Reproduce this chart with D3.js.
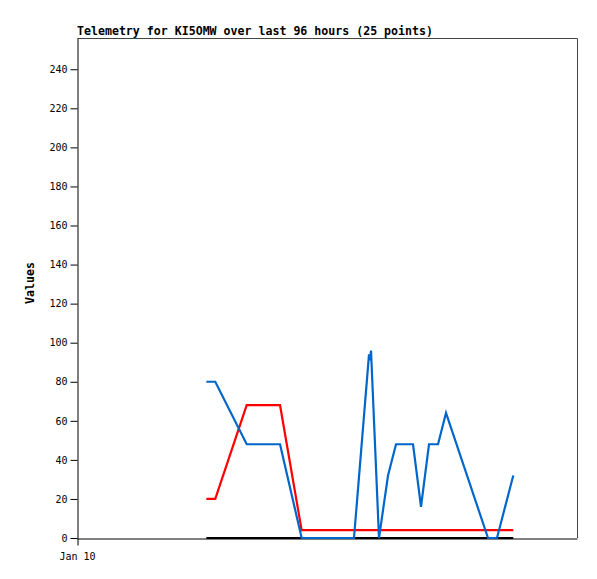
<!DOCTYPE html>
<html>
<head>
<meta charset="utf-8">
<script src="https://cdn.jsdelivr.net/npm/d3@7"></script>
<style>
  body { margin: 0; background: #fff; }
  svg { display: block; }
  text { font-family: "DejaVu Sans Mono", "Liberation Mono", monospace; }
</style>
</head>
<body>
<script>
const WIDTH = 597;
const HEIGHT = 579;
const MARGIN = { top: 38, right: 20, bottom: 41, left: 77 };

const TITLE = "Telemetry for KI5OMW over last 96 hours (25 points)";
const Y_LABEL = "Values";
const X_START = "2024-01-10 00:00";
const X_END = "2024-01-14 00:00";
const Y_MAX = 256;
const Y_TICKS = [0, 20, 40, 60, 80, 100, 120, 140, 160, 180, 200, 220, 240];

const times = [
  "2024-01-11 00:50", "2024-01-11 02:33", "2024-01-11 08:35", "2024-01-11 14:59",
  "2024-01-11 19:08", "2024-01-12 05:11", "2024-01-12 08:04", "2024-01-12 08:16",
  "2024-01-12 08:27", "2024-01-12 09:59", "2024-01-12 11:43", "2024-01-12 13:15",
  "2024-01-12 16:31", "2024-01-12 18:03", "2024-01-12 19:35", "2024-01-12 21:19",
  "2024-01-12 22:51", "2024-01-13 06:55", "2024-01-13 08:38", "2024-01-13 11:46"
];
const blueValues = [80, 80, 48, 48, 0, 0, 94, 91, 96, 0, 32, 48, 48, 16, 48, 48, 64, 0, 0, 32];
const redValues = [20, 20, 68, 68, 4, 4, 4, 4, 4, 4, 4, 4, 4, 4, 4, 4, 4, 4, 4, 4];
const blackValues = [0, 0, 0, 0, 0, 0, 0, 0, 0, 0, 0, 0, 0, 0, 0, 0, 0, 0, 0, 0];

const parse = d3.timeParse("%Y-%m-%d %H:%M");
const dates = times.map(parse);

const w = WIDTH - MARGIN.left - MARGIN.right;
const h = HEIGHT - MARGIN.top - MARGIN.bottom;

const svg = d3.select("body").append("svg")
  .attr("width", WIDTH)
  .attr("height", HEIGHT);

const g = svg.append("g").attr("transform", `translate(${MARGIN.left},${MARGIN.top})`);

const x = d3.scaleTime().domain([parse(X_START), parse(X_END)]).range([0, w]);
const y = d3.scaleLinear().domain([0, Y_MAX]).range([h, 0]);

// frame: top and right in grey
g.append("path")
  .attr("d", `M0.5,0.5H${w + 0.5}V${h}`)
  .attr("fill", "none")
  .attr("stroke", "#444");

const yAxis = g.append("g")
  .attr("transform", "translate(0.5,0)")
  .call(d3.axisLeft(y).tickValues(Y_TICKS).tickSize(7).tickPadding(3).tickSizeOuter(0));
yAxis.select(".domain").attr("stroke", "#000");
yAxis.selectAll("line").attr("stroke", "#000");
yAxis.selectAll("text").attr("font-size", "10px").attr("fill", "#000");

const xAxis = g.append("g")
  .attr("transform", `translate(0,${h + 0.5})`)
  .call(d3.axisBottom(x).tickValues([parse(X_START)]).tickFormat(d3.timeFormat("%b %d")).tickSize(7).tickPadding(7).tickSizeOuter(0));
xAxis.select(".domain").attr("stroke", "#000");
xAxis.selectAll("line").attr("stroke", "#000").attr("transform", "translate(0.5,0)");
xAxis.selectAll("text").attr("font-size", "10px").attr("fill", "#000");

const line = d3.line()
  .x((d, i) => x(dates[i]))
  .y((d) => y(d));

const series = [
  { values: blackValues, color: "#000000" },
  { values: redValues, color: "#ff0000" },
  { values: blueValues, color: "#0066cc" }
];

g.selectAll(".series")
  .data(series)
  .enter()
  .append("path")
  .attr("class", "series")
  .attr("d", (d) => line(d.values))
  .attr("fill", "none")
  .attr("stroke", (d) => d.color)
  .attr("stroke-width", 2.2);

svg.append("text")
  .attr("x", MARGIN.left)
  .attr("y", 35)
  .attr("font-size", "11.6px")
  .attr("font-weight", "bold")
  .text(TITLE);

svg.append("text")
  .attr("transform", `translate(34,${MARGIN.top + h / 2 - 5}) rotate(-90)`)
  .attr("text-anchor", "middle")
  .attr("font-size", "11.6px")
  .attr("font-weight", "bold")
  .text(Y_LABEL);
</script>
</body>
</html>
